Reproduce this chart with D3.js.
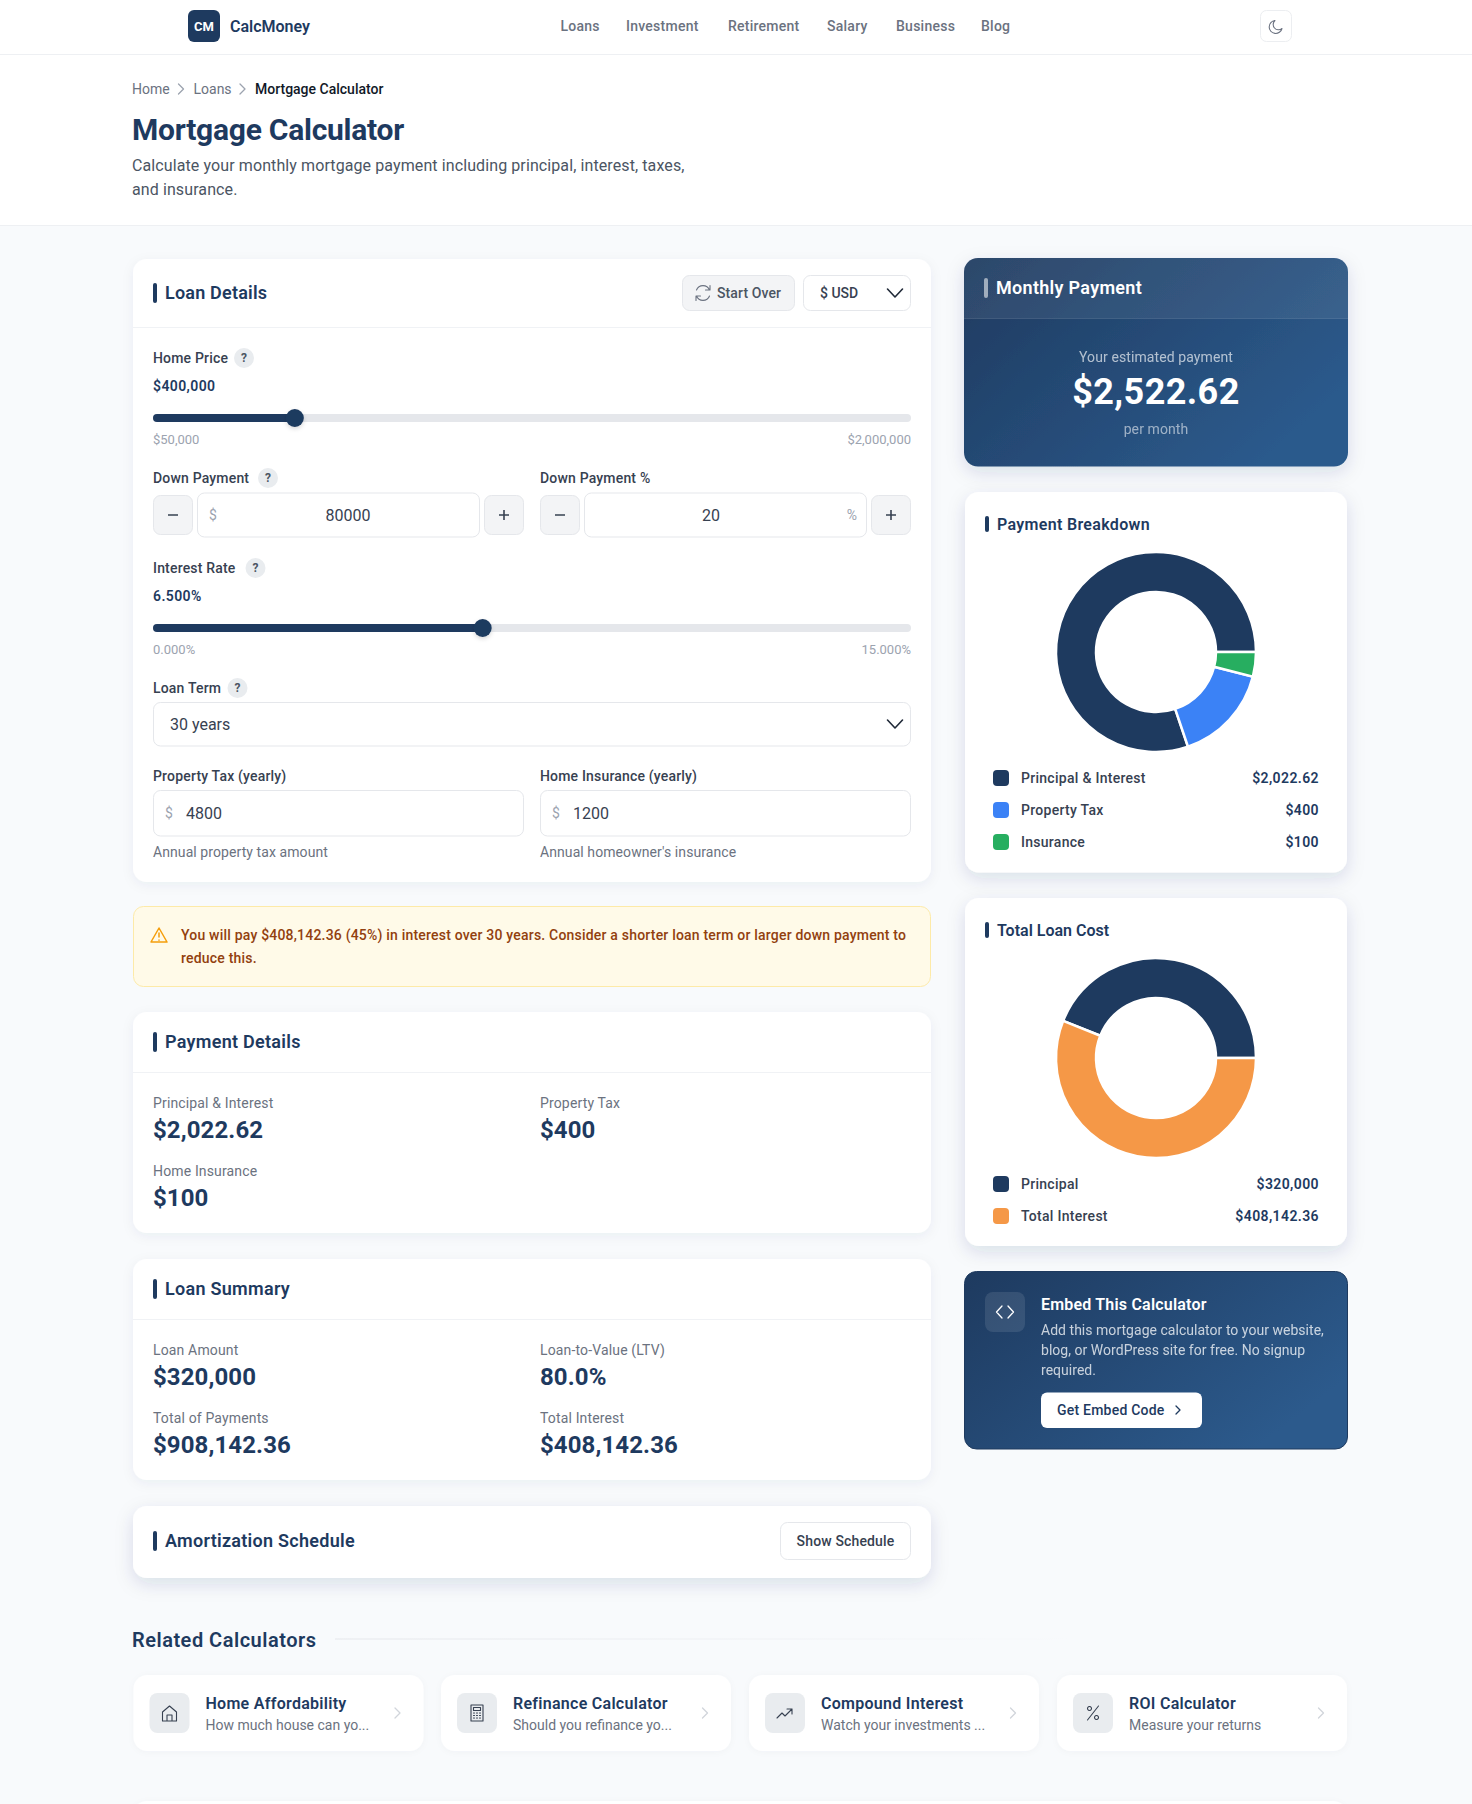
<!DOCTYPE html>
<html lang="en">

<head>
    <meta charset="UTF-8">
    <title>Mortgage Calculator</title>
    <script src="https://cdn.jsdelivr.net/npm/d3@7"></script>
</head>
<style>
    html,
    body {
        margin: 0;
        padding: 0;
        background: #f8fafc;
    }

    svg {
        display: block;
    }

    text {
        font-family: Roboto, sans-serif;
    }
</style>

<body>
    <script>
        //data
        var navLinks = ['Loans', 'Investment', 'Retirement', 'Salary', 'Business', 'Blog'];
        var crumbs = ['Home', 'Loans', 'Mortgage Calculator'];
        var breakdownNames = ['Principal & Interest', 'Property Tax', 'Insurance'];
        var breakdownValues = [2022.62, 400, 100];
        var breakdownLabels = ['$2,022.62', '$400', '$100'];
        var costNames = ['Principal', 'Total Interest'];
        var costValues = [320000, 408142.36];
        var costLabels = ['$320,000', '$408,142.36'];
        var detailNames = ['Principal & Interest', 'Property Tax', 'Home Insurance'];
        var detailValues = ['$2,022.62', '$400', '$100'];
        var summaryNames = ['Loan Amount', 'Loan-to-Value (LTV)', 'Total of Payments', 'Total Interest'];
        var summaryValues = ['$320,000', '80.0%', '$908,142.36', '$408,142.36'];
        var relatedTitles = ['Home Affordability', 'Refinance Calculator', 'Compound Interest', 'ROI Calculator'];
        var relatedSubs = ['How much house can yo...', 'Should you refinance yo...', 'Watch your investments ...', 'Measure your returns'];
        var homePrice = { value: 400000, min: 50000, max: 2000000 };
        var interestRate = { value: 6.5, min: 0, max: 15 };

        var NAVY = '#1e3a5f', DARK = '#374151', TRACK = '#e5e7eb';
        var sliceColors = ['#1e3a5f', '#3b82f6', '#27ae60'];
        var costColors = ['#1e3a5f', '#f59847'];

        var svg = d3.select('body').append('svg').attr('width', 1472).attr('height', 1804);
        var defs = svg.append('defs');

        var addShadow = function (id, dy, blur, opacity) {
            var f = defs.append('filter').attr('id', id).attr('x', '-10%').attr('y', '-30%').attr('width', '120%').attr('height', '170%');
            f.append('feDropShadow').attr('dx', 0).attr('dy', dy).attr('stdDeviation', blur).attr('flood-color', '#1e3a5f').attr('flood-opacity', opacity);
        }
        addShadow('shadow', 3, 6, 0.06);
        addShadow('shadowStrong', 6, 9, 0.13);
        addShadow('shadowSoft', 1, 3, 0.03);
        var thumbShadow = defs.append('filter').attr('id', 'thumbShadow').attr('x', '-50%').attr('y', '-50%').attr('width', '200%').attr('height', '200%');
        thumbShadow.append('feDropShadow').attr('dx', 0).attr('dy', 2).attr('stdDeviation', 2).attr('flood-color', '#000').attr('flood-opacity', 0.15);

        var grad = defs.append('linearGradient').attr('id', 'blueGrad').attr('x1', 0).attr('y1', 0).attr('x2', 1).attr('y2', 0.6);
        grad.append('stop').attr('offset', 0).attr('stop-color', '#1e3a5f');
        grad.append('stop').attr('offset', 1).attr('stop-color', '#2c5a8c');
        var fade = defs.append('linearGradient').attr('id', 'fadeLine');
        fade.append('stop').attr('offset', 0).attr('stop-color', '#e5e7eb');
        fade.append('stop').attr('offset', 1).attr('stop-color', '#e5e7eb').attr('stop-opacity', 0);

        var text = function (x, y, str, size, weight, fill, anchor, spacing) {
            return svg.append('text').attr('x', x).attr('y', y).attr('dy', '0.35em').text(str)
                .attr('font-size', size).attr('font-weight', weight || 400).attr('fill', fill || DARK)
                .attr('text-anchor', anchor || 'start').attr('letter-spacing', spacing || 0);
        }
        var box = function (x, y, x2, y2, r, fill, stroke) {
            return svg.append('rect').attr('x', x).attr('y', y).attr('width', x2 - x).attr('height', y2 - y)
                .attr('rx', r).attr('fill', fill).attr('stroke', stroke || 'none');
        }
        var card = function (x, y, x2, y2, shadowId) {
            return box(x, y, x2, y2, 14, '#fff').attr('filter', 'url(#' + (shadowId || 'shadow') + ')');
        }
        var icon = function (d, color, width) {
            return svg.append('path').attr('d', d).attr('fill', 'none').attr('stroke', color)
                .attr('stroke-width', width || 1.5).attr('stroke-linecap', 'round').attr('stroke-linejoin', 'round');
        }
        var chevronDown = function (cx, cy) {
            icon(d3.line()([[cx - 7.5, cy - 4], [cx, cy + 4], [cx + 7.5, cy - 4]]), '#1f2937', 1.6);
        }
        var chevronRight = function (cx, cy, color, h) {
            icon(d3.line()([[cx - h / 2, cy - h], [cx + h / 2, cy], [cx - h / 2, cy + h]]), color, 1.3);
        }
        var sectionTitle = function (x, y, str, size, spacing) {
            var h = size > 16 ? 10 : 8;
            box(x, y - h, x + 4, y + h, 2, NAVY);
            text(x + 12, y, str, size, 600, NAVY, 'start', spacing === undefined ? 0.28 : spacing);
        }
        var help = function (cx, cy) {
            svg.append('circle').attr('cx', cx).attr('cy', cy).attr('r', 10).attr('fill', '#e9ecef');
            text(cx, cy, '?', 12, 700, '#4b5563', 'middle');
        }
        var label = function (x, y, str) {
            text(x, y, str, 14, 500, DARK, 'start', 0.18);
        }

        //top bar
        svg.append('rect').attr('width', 1472).attr('height', 225).attr('fill', '#fff');
        svg.append('rect').attr('y', 54).attr('width', 1472).attr('height', 1).attr('fill', '#eef0f3');
        svg.append('rect').attr('y', 225).attr('width', 1472).attr('height', 1).attr('fill', '#eef0f3');
        box(188, 10, 220, 42, 6, NAVY);
        text(204, 26, 'CM', 13, 700, '#fff', 'middle');
        text(230, 26, 'CalcMoney', 16, 600, NAVY);
        var navX = [560.5, 626, 728, 827, 896, 981];
        svg.selectAll('.nav').data(navLinks).enter().append('text').attr('class', 'nav')
            .attr('x', function (d, i) { return navX[i]; }).attr('y', 26).attr('dy', '0.35em')
            .attr('font-size', 14).attr('font-weight', 500).attr('fill', '#6b7280').attr('letter-spacing', 0.25)
            .text(function (d) { return d; });
        box(1260.5, 10.5, 1291.5, 41.5, 6, '#fff', '#eceef1');
        icon('M1282 28.5a6.5 6.5 0 1 1-7-8 5 5 0 0 0 7 8z', '#6b7280', 1.1);

        //breadcrumb and title
        var crumbX = [132, 193.5, 255];
        crumbs.forEach(function (c, i) {
            text(crumbX[i], 89, c, 14, i == 2 ? 500 : 400, i == 2 ? '#111827' : '#6b7280');
        });
        chevronRight(181, 89, '#9ca3af', 5);
        chevronRight(242.5, 89, '#9ca3af', 5);
        text(132, 129.5, 'Mortgage Calculator', 30, 700, NAVY, 'start', -0.25);
        text(132, 165, 'Calculate your monthly mortgage payment including principal, interest, taxes,', 16, 400, '#4b5563', 'start', 0.1);
        text(132, 189.5, 'and insurance.', 16, 400, '#4b5563', 'start', 0.1);

        //loan details
        card(133, 259, 931, 882);
        sectionTitle(153, 293, 'Loan Details', 18, 0.2);
        svg.append('rect').attr('x', 133).attr('y', 327).attr('width', 798).attr('height', 1).attr('fill', '#f0f2f5');
        box(682.5, 275.5, 794.5, 310.5, 7, '#f3f4f6', '#e5e7eb');
        icon('M709.5 290A7 7 0 0 0 696.5 290M710 285.5v4.5h-4.5M696.5 296A7 7 0 0 0 709.5 296M696 300.5v-4.5h4.5', '#6b7280', 1.1);
        text(717, 293, 'Start Over', 14, 500, '#4b5563', 'start', 0.1);
        box(803.5, 275.5, 910.5, 310.5, 7, '#fff', '#e5e7eb');
        text(820, 293, '$ USD', 14, 500, DARK);
        chevronDown(895, 293);

        var slider = function (y, cfg, valueStr, minStr, maxStr) {
            var x = d3.scaleLinear().domain([cfg.min, cfg.max]).range([162, 902]);
            box(153, y - 4, 911, y + 4, 4, TRACK);
            box(153, y - 4, x(cfg.value), y + 4, 4, NAVY);
            svg.append('circle').attr('cx', x(cfg.value)).attr('cy', y).attr('r', 9).attr('fill', NAVY)
                .attr('filter', 'url(#thumbShadow)');
            text(153, y - 32, valueStr, 14, 600, NAVY, 'start', 0.4);
            text(153, y + 21.5, minStr, 13, 400, '#9ca3af');
            text(911, y + 21.5, maxStr, 13, 400, '#9ca3af', 'end');
        }
        label(153, 358, 'Home Price');
        help(244, 358);
        slider(418, homePrice, '$400,000', '$50,000', '$2,000,000');

        var stepper = function (x, x2, value, valueX) {
            box(x + 0.5, 495.5, x + 39.5, 534.5, 7, '#f3f4f6', '#e5e7eb');
            box(x + 44.5, 493, x2 - 44.5, 537, 7, '#fff', '#e5e7eb');
            box(x2 - 39.5, 495.5, x2 - 0.5, 534.5, 7, '#f3f4f6', '#e5e7eb');
            svg.append('path').attr('d', 'M' + (x + 15) + ' 515h10M' + (x2 - 25) + ' 515h10M' + (x2 - 20) + ' 510v10')
                .attr('stroke', '#374151').attr('stroke-width', 1.6).attr('fill', 'none');
            text(valueX, 515, value, 16, 400, DARK, 'middle');
        }
        label(153, 478, 'Down Payment');
        help(268, 478);
        stepper(153, 524, '80000', 348);
        text(213, 515, '$', 14, 400, '#9ca3af', 'middle');
        label(540, 478, 'Down Payment %');
        stepper(540, 911, '20', 711);
        text(852, 515, '%', 14, 400, '#9ca3af', 'middle');

        label(153, 568, 'Interest Rate');
        help(255.5, 568);
        slider(628, interestRate, '6.500%', '0.000%', '15.000%');

        label(153, 688, 'Loan Term');
        help(237.5, 688);
        box(153.5, 702.5, 910.5, 746, 7, '#fff', '#e5e7eb');
        text(170, 724, '30 years', 16, 400, DARK);
        chevronDown(895, 724);

        label(153, 776, 'Property Tax (yearly)');
        box(153.5, 790.5, 523.5, 836, 7, '#fff', '#e5e7eb');
        text(169, 813, '$', 14, 400, '#9ca3af', 'middle');
        text(186, 813, '4800', 16, 400, DARK);
        text(153, 852, 'Annual property tax amount', 14, 400, '#6b7280', 'start', 0.08);
        label(540, 776, 'Home Insurance (yearly)');
        box(540.5, 790.5, 910.5, 836, 7, '#fff', '#e5e7eb');
        text(556, 813, '$', 14, 400, '#9ca3af', 'middle');
        text(573, 813, '1200', 16, 400, DARK);
        text(540, 852, "Annual homeowner's insurance", 14, 400, '#6b7280', 'start', 0.08);

        //alert
        box(133.5, 906.5, 930.5, 986.5, 10, '#fffae8', '#fdeaa8');
        icon('M159 928l8 14h-16zM159 933v4M159 940v.2', '#f59e0b', 1.5);
        text(181, 935, 'You will pay $408,142.36 (45%) in interest over 30 years. Consider a shorter loan term or larger down payment to', 14, 500, '#92400e', 'start', 0.2);
        text(181, 958, 'reduce this.', 14, 500, '#92400e', 'start', 0.2);

        //stat cards
        var statCard = function (top, bottom, title, names, values) {
            card(133, top, 931, bottom);
            sectionTitle(153, top + 30, title, 18);
            svg.append('rect').attr('x', 133).attr('y', top + 60).attr('width', 798).attr('height', 1).attr('fill', '#f0f2f5');
            var colX = [153, 540];
            names.forEach(function (n, i) {
                var x = colX[i % 2];
                var row = Math.floor(i / 2);
                text(x, top + 91 + row * 68, n, 14, 400, '#6b7280', 'start', 0.15);
                text(x, top + 118 + row * 68, values[i], 24, 700, NAVY, 'start', 0.1);
            });
        }
        statCard(1012, 1233, 'Payment Details', detailNames, detailValues);
        statCard(1259, 1480, 'Loan Summary', summaryNames, summaryValues);

        card(133, 1506, 931, 1578, 'shadowStrong');
        sectionTitle(153, 1541, 'Amortization Schedule', 18);
        box(780.5, 1522.5, 910.5, 1559.5, 7, '#fff', '#e5e7eb');
        text(845.5, 1541, 'Show Schedule', 14, 500, DARK, 'middle', 0.15);

        //monthly payment
        box(964, 258, 1348, 466.5, 14, 'url(#blueGrad)').attr('filter', 'url(#shadowStrong)');
        svg.append('path').attr('d', 'M964 318V272a14 14 0 0 1 14-14H1334a14 14 0 0 1 14 14V318z').attr('fill', '#fff').attr('opacity', 0.07);
        svg.append('rect').attr('x', 964).attr('y', 318).attr('width', 384).attr('height', 1).attr('fill', '#fff').attr('opacity', 0.14);
        box(984, 278, 988, 298, 2, '#fff').attr('opacity', 0.55);
        text(996, 288, 'Monthly Payment', 18, 600, '#fff', 'start', 0.3);
        text(1156, 357, 'Your estimated payment', 14, 400, '#fff', 'middle', 0.1).attr('opacity', 0.65);
        text(1156, 391, '$2,522.62', 36, 700, '#fff', 'middle', 0.4);
        text(1156, 429, 'per month', 14, 400, '#fff', 'middle', 0.1).attr('opacity', 0.55);

        //donut cards
        var donut = function (cy, values, colors) {
            //slices run anticlockwise from three o'clock
            var pie = d3.pie().sort(null).startAngle(Math.PI / 2).endAngle(Math.PI / 2 - 2 * Math.PI);
            var arc = d3.arc().innerRadius(60).outerRadius(100);
            svg.append('g').attr('transform', 'translate(1156,' + cy + ')')
                .selectAll('path').data(pie(values)).enter().append('path')
                .attr('d', arc).attr('fill', function (d, i) { return colors[i]; })
                .attr('stroke', '#fff').attr('stroke-width', 2.5);
        }
        var legend = function (y0, step, names, labels, colors) {
            names.forEach(function (n, i) {
                var y = y0 + i * step;
                box(993, y - 8, 1009, y + 8, 4, colors[i]);
                text(1021, y, n, 14, 500, '#374151', 'start', 0.28);
                text(1319, y, labels[i], 14, 600, NAVY, 'end', 0.4);
            });
        }
        card(965, 492, 1347, 872.5, 'shadowStrong');
        sectionTitle(985, 524, 'Payment Breakdown', 16, 0.32);
        donut(652, breakdownValues, sliceColors);
        legend(778, 32, breakdownNames, breakdownLabels, sliceColors);

        card(965, 898, 1347, 1246, 'shadowStrong');
        sectionTitle(985, 930, 'Total Loan Cost', 16, 0);
        donut(1058, costValues, costColors);
        legend(1184, 32, costNames, costLabels, costColors);

        //embed card
        box(964.5, 1271.5, 1347.5, 1449, 12, 'url(#blueGrad)', '#1e3a5f');
        box(985, 1292, 1025, 1332, 8, '#fff').attr('opacity', 0.1);
        icon('M1002 1306l-5.5 6 5.5 6M1008 1306l5.5 6-5.5 6', '#fff', 1.3);
        text(1041, 1304, 'Embed This Calculator', 16, 600, '#fff', 'start', 0.2);
        ['Add this mortgage calculator to your website,', 'blog, or WordPress site for free. No signup', 'required.'].forEach(function (l, i) {
            text(1041, 1330 + i * 20, l, 14, 400, '#fff', 'start', 0.03).attr('opacity', 0.75);
        });
        box(1041, 1392.5, 1202, 1428, 6, '#fff');
        text(1057, 1410, 'Get Embed Code', 14, 500, NAVY, 'start', 0.22);
        chevronRight(1178, 1410, NAVY, 4);

        //related calculators
        text(132, 1640, 'Related Calculators', 20, 600, NAVY, 'start', 0.5);
        svg.append('rect').attr('x', 335).attr('y', 1638.5).attr('width', 754).attr('height', 1).attr('fill', 'url(#fadeLine)');
        var relatedX = [133.5, 441, 749, 1057];
        var relatedIcons = [
            'M-7 8v-9l7-6 7 6v9zM-2.5 8v-6h5v6',
            'M-6 -8h12v16h-12zM-3.5 -5.5h7v3h-7zM-3.5 0h1M-.5 0h1M2.5 0h1M-3.5 2.5h1M-.5 2.5h1M2.5 2.5h1M-3.5 5h1M-.5 5h1M2.5 5h1',
            'M-8 5l5-5 3 3 7-7M2 -4h5v5',
            'M-5.5 7l11-14M-3.5 -6.5a2 2 0 1 0 .01 0M3.5 2.5a2 2 0 1 0 .01 0'
        ];
        relatedTitles.forEach(function (t, i) {
            var x = relatedX[i];
            card(x, 1675, x + 290, 1751, 'shadowSoft');
            box(x + 16, 1693, x + 56, 1733, 8, '#e9ecef');
            icon(relatedIcons[i], '#374151', 1.1).attr('transform', 'translate(' + (x + 36) + ',1713)');
            text(x + 72, 1703, t, 16, 600, NAVY, 'start', 0.28);
            text(x + 72, 1725, relatedSubs[i], 14, 400, '#6b7280');
            chevronRight(x + 264, 1713, '#d1d5db', 5);
        });

        //next card starts at the bottom edge
        card(133, 1801, 1347, 1860, 'shadowSoft');
    </script>
</body>

</html>
